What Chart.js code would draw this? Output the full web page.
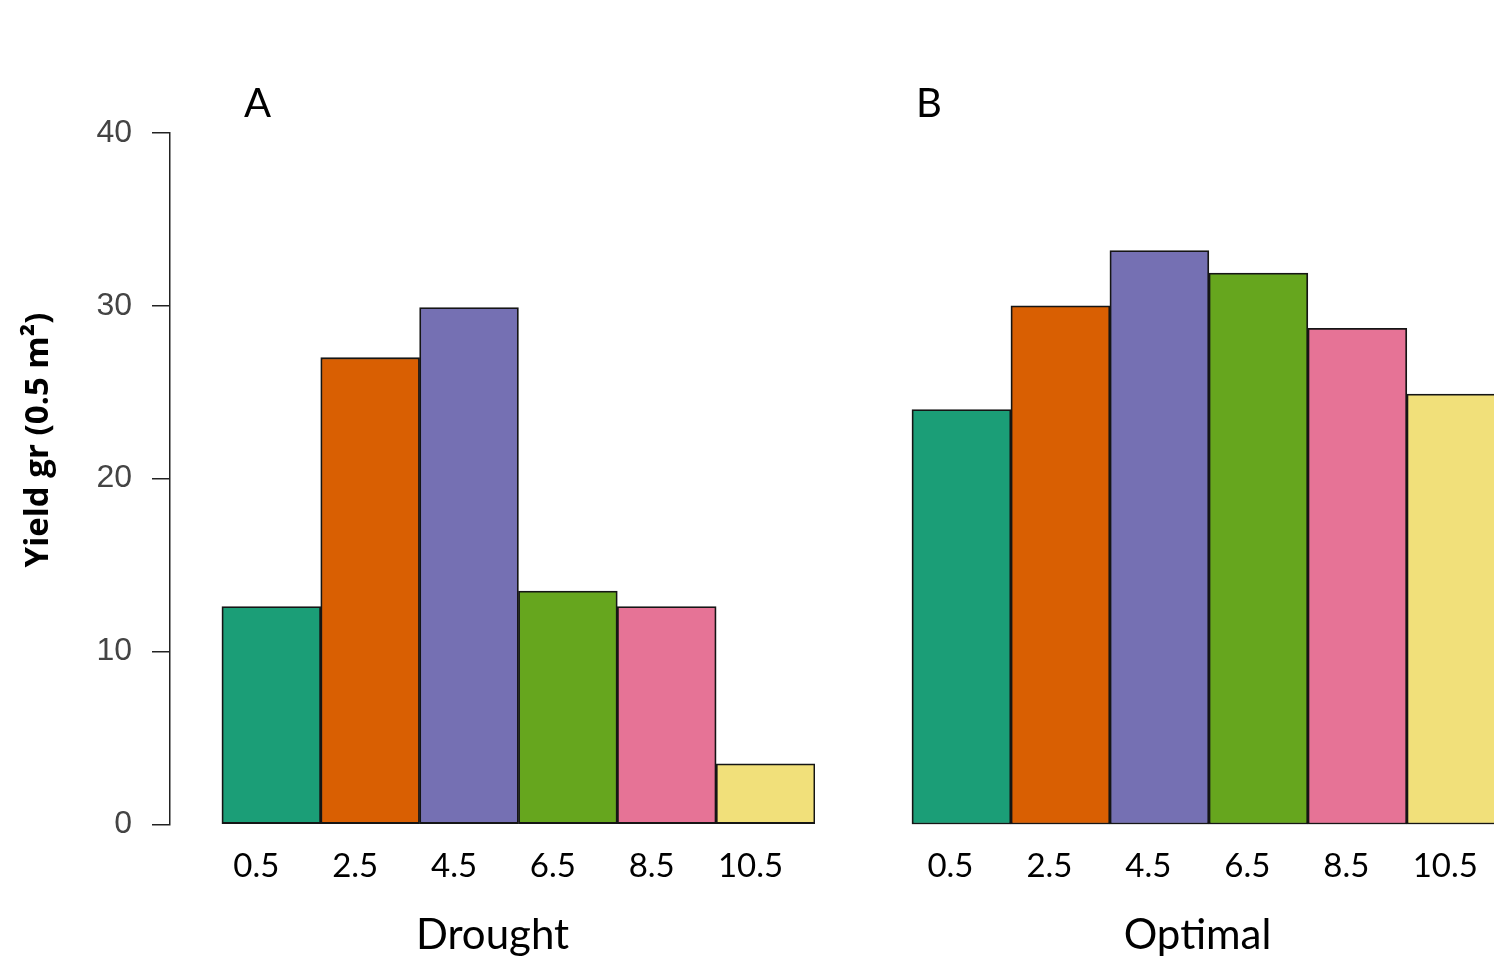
<!DOCTYPE html>
<html>
<head>
<meta charset="utf-8">
<script src="https://cdn.jsdelivr.net/npm/chart.js@4"></script>
<style>
  html, body { margin: 0; padding: 0; background: #fff; overflow: hidden; }
  #wrap { position: relative; width: 1494px; height: 961px; overflow: hidden; }
  canvas { position: absolute; top: 0; }
  #droughtChart { left: 0; }
  #optimalChart { left: 840px; }
</style>
</head>
<body>
<div id="wrap">
  <canvas id="droughtChart" width="840" height="961"></canvas>
  <canvas id="optimalChart" width="720" height="961"></canvas>
</div>
<script>
// Data
const depths = [0.5, 2.5, 4.5, 6.5, 8.5, 10.5];
const droughtYield = [12.6, 27.0, 29.9, 13.5, 12.6, 3.5];
const optimalYield = [24.0, 30.0, 33.2, 31.9, 28.7, 24.9];
const yTicks = [0, 10, 20, 30, 40];
const barColors = ['#1B9E77', '#D95F02', '#7570B3', '#66A61E', '#E67396', '#F1E07A'];

const FONT = 'Lato, "Open Sans", sans-serif';

// text that sits outside the axes (panel letter, y title)
const panelText = {
    id: 'panelText',
    afterDraw(chart, args, opts) {
        const { ctx, chartArea } = chart;
        ctx.save();
        ctx.fillStyle = '#000';
        ctx.font = '40px ' + FONT;
        ctx.textBaseline = 'alphabetic';
        ctx.textAlign = 'left';
        ctx.fillText(opts.letter, chartArea.left + opts.letterDx, chartArea.top - 16);
        if (opts.yTitle) {
            ctx.translate(39, 440);
            ctx.rotate(-Math.PI / 2);
            ctx.font = 'bold 33px "Open Sans", sans-serif';
            ctx.textAlign = 'center';
            ctx.textBaseline = 'middle';
            ctx.fillText(opts.yTitle, 0, 0);
        }
        ctx.restore();
    }
};

function buildChart(canvasId, values, opts) {
    const ctx = document.getElementById(canvasId).getContext('2d');
    return new Chart(ctx, {
        type: 'bar',
        data: {
            datasets: [{
                data: depths.map((d, i) => ({ x: d, y: values[i] })),
                backgroundColor: barColors,
                borderColor: '#151515',
                borderWidth: 1.8,
                borderSkipped: false,
                barPercentage: 1,
                categoryPercentage: 1
            }]
        },
        options: {
            responsive: false,
            animation: false,
            devicePixelRatio: 1,
            layout: { padding: { top: 133, bottom: 0, left: opts.padLeft, right: opts.padRight } },
            plugins: {
                legend: { display: false },
                tooltip: { enabled: false },
                panelText: { letter: opts.letter, letterDx: opts.letterDx, yTitle: opts.yTitle }
            },
            scales: {
                x: {
                    type: 'linear',
                    offset: false,
                    min: -1.55,
                    max: opts.xMax,
                    afterBuildTicks(scale) {
                        scale.ticks = depths.map(v => ({ value: v }));
                    },
                    afterFit(scale) {
                        scale.height = 136.7;
                    },
                    grid: { display: false, drawTicks: false },
                    border: { display: false },
                    ticks: {
                        autoSkip: false,
                        maxRotation: 0,
                        padding: 22,
                        labelOffset: opts.labelOffset,
                        color: '#000',
                        font: { family: FONT, size: 33 },
                        callback: v => String(v)
                    },
                    title: {
                        display: true,
                        text: opts.xTitle,
                        color: '#000',
                        padding: 0,
                        font: { family: FONT, size: 42 }
                    }
                },
                y: {
                    display: opts.showY,
                    min: 0,
                    max: 40,
                    afterBuildTicks(scale) {
                        scale.ticks = yTicks.map(v => ({ value: v }));
                    },
                    afterFit(scale) {
                        scale.width = opts.showY ? 170 : 0;
                    },
                    grid: {
                        drawOnChartArea: false,
                        drawTicks: true,
                        tickLength: 18,
                        color: '#222',
                        lineWidth: 1.5
                    },
                    border: { display: true, color: '#222', width: 1.5 },
                    ticks: {
                        padding: 20,
                        color: '#444',
                        font: { family: '"Liberation Sans", Arial, sans-serif', size: 32 }
                    }
                }
            }
        },
        plugins: [panelText]
    });
}

document.addEventListener('DOMContentLoaded', () => {
    buildChart('droughtChart', droughtYield, {
        padLeft: 0, padRight: 25, xMax: 11.5, labelOffset: -15,
        showY: true, letter: 'A', letterDx: 74, yTitle: 'Yield gr (0.5 m²)', xTitle: 'Drought'
    });
    buildChart('optimalChart', optimalYield, {
        padLeft: 20, padRight: 25, xMax: 12.09, labelOffset: -11,
        showY: false, letter: 'B', letterDx: 56, yTitle: null, xTitle: 'Optimal'
    });
});
</script>
</body>
</html>
